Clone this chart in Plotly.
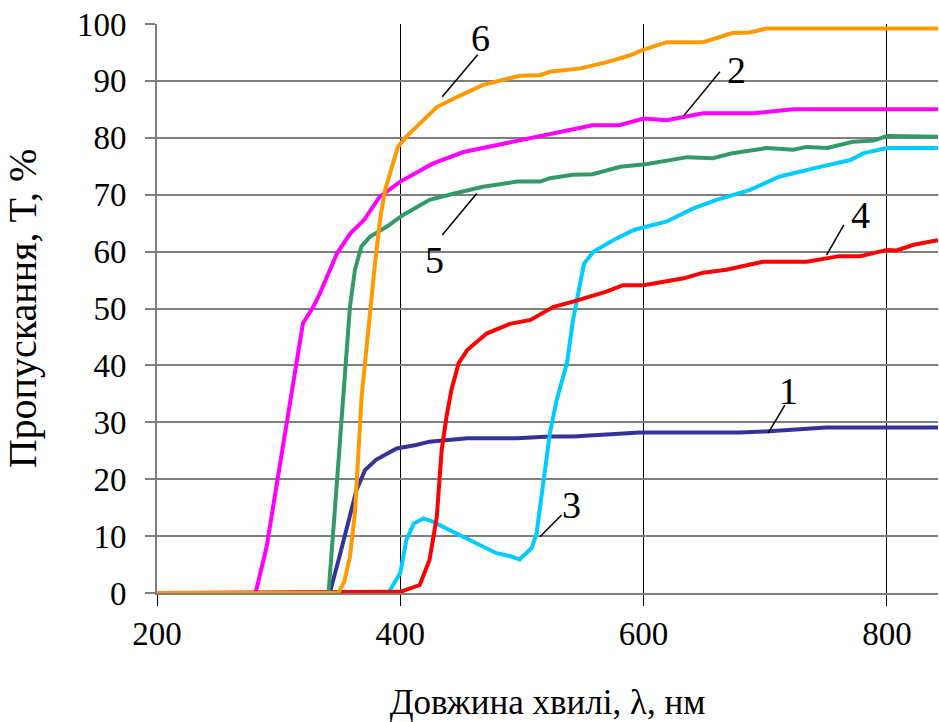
import plotly.graph_objects as go

# ---- data (wavelength, nm ; transmittance, %) ----
x1 = [200, 342, 350, 359, 364, 371, 380, 397, 413, 424, 455, 496, 523, 542, 597, 679, 700, 750, 842]
y1 = [0, 0, 6.4, 14, 18.1, 21.6, 23.4, 25.4, 26, 26.6, 27.2, 27.2, 27.5, 27.5, 28.2, 28.2, 28.4, 29.1, 29.1]

x2 = [200, 281, 290, 299, 307, 315, 320, 328.5, 334, 348, 359, 370, 383, 400, 427, 452, 479, 507, 515, 558,
      580, 600, 619, 649, 690, 723, 842]
y2 = [0, 0, 8, 19.9, 30, 40.4, 47.4, 50.3, 52.7, 59.7, 63.2, 65.5, 69.6, 72.3, 75.5, 77.5, 78.7, 80, 80.2, 82.2,
      82.2, 83.4, 83.1, 84.3, 84.3, 85, 85]

x3 = [200, 390, 400, 405, 411, 419, 427, 455, 479, 490, 498, 508, 512, 517.5, 523, 528.5, 537, 542, 548, 551,
      559, 575, 592, 619, 641, 660, 687, 712, 745, 770, 781, 800, 842]
y3 = [0, 0, 3.5, 9.3, 12.2, 13.1, 12.5, 9.6, 7, 6.5, 5.9, 7.9, 10.5, 19.3, 28.1, 33.9, 40.4, 48, 55, 57.9,
      60, 62, 63.8, 65.3, 67.6, 69.1, 70.8, 73.2, 74.9, 76.1, 77.3, 78.2, 78.2]

x4 = [200, 400, 416, 424, 430, 434, 438, 442, 448, 455, 471, 490, 507, 526, 542, 570, 583, 600, 633, 649,
      668, 698, 734, 761, 778, 800, 808, 822, 842]
y4 = [0, 0.2, 1.4, 5.8, 13.4, 25.1, 31, 35.7, 40.4, 42.7, 45.6, 47.3, 48, 50.3, 51.2, 53, 54.1, 54.1, 55.3, 56.3,
      56.8, 58.2, 58.2, 59.2, 59.2, 60.3, 60.2, 61.2, 62]

x5 = [200, 341, 346, 350, 354.5, 358.6, 362.7, 368, 375, 389, 402, 414, 424, 446, 468, 496, 515, 523, 542, 558,
      581, 603, 636, 657, 673, 701, 723, 734, 751, 772, 789, 800, 842]
y5 = [0, 0, 14, 25.7, 40.4, 50.3, 56.8, 60.9, 62.6, 64.4, 66.4, 67.9, 69.1, 70.3, 71.4, 72.3, 72.3, 72.9, 73.5, 73.6,
      74.9, 75.4, 76.6, 76.4, 77.3, 78.2, 77.9, 78.4, 78.2, 79.3, 79.5, 80.3, 80.2]

x6 = [200, 349, 354, 358.6, 362.7, 365.5, 368.2, 371, 375, 379.2, 383.3, 387.4, 390, 398, 405, 416, 430, 447, 468, 498,
      515, 523, 548, 570, 589, 599, 619, 649, 673, 687, 701, 842]
y6 = [0, 0, 2, 6.4, 14, 25.7, 34.5, 40.4, 49.2, 57.9, 65.5, 70.8, 72.6, 78.4, 80.2, 82.6, 85.4, 87.2, 89.3, 90.9,
      91, 91.6, 92.2, 93.3, 94.5, 95.4, 96.8, 96.8, 98.4, 98.5, 99.2, 99.2]

series_x = [x1, x2, x3, x4, x5, x6]
series_y = [y1, y2, y3, y4, y5, y6]
series_names = ["1", "2", "3", "4", "5", "6"]
colors = ["#333399", "#FF00FF", "#00CCFF", "#FF0000", "#339966", "#FF9900"]

# curve labels: text position and leader line (x0, y0) -> (x1, y1)
label_text = ["6", "5", "2", "4", "1", "3"]
label_x = [466, 428.5, 676, 778, 719, 541]
label_y = [97.5, 58.5, 92, 66.5, 35.5, 15.5]
lead_x0 = [463.6, 462.8, 662.7, 764.6, 716.1, 532.6]
lead_y0 = [94.6, 70.2, 91.6, 64.7, 33.0, 13.7]
lead_x1 = [434.5, 434.5, 633.1, 750.4, 702.4, 514.8]
lead_y1 = [87.2, 62.9, 83.9, 59.4, 28.1, 9.9]

x_ticks = [200, 400, 600, 800]
y_ticks = list(range(0, 101, 10))

FONT = "Liberation Serif"

fig = go.Figure()
for xs, ys, nm, c in zip(series_x, series_y, series_names, colors):
    fig.add_trace(go.Scatter(x=xs, y=ys, mode="lines", name=nm,
                             line=dict(color=c, width=4), showlegend=False))

for t, tx, ty in zip(label_text, label_x, label_y):
    fig.add_annotation(x=tx, y=ty, text=t, showarrow=False,
                       font=dict(family=FONT, size=38, color="black"))
for a, b, c, d in zip(lead_x0, lead_y0, lead_x1, lead_y1):
    fig.add_shape(type="line", x0=a, y0=b, x1=c, y1=d, xref="x", yref="y",
                  line=dict(color="black", width=1.5))

fig.update_layout(
    width=939, height=722,
    margin=dict(l=157, r=1, t=24, b=129, autoexpand=False),
    paper_bgcolor="white", plot_bgcolor="white",
    font=dict(family=FONT, color="black", size=32),
)
fig.update_xaxes(
    range=[200, 842], tickvals=x_ticks, ticktext=[str(v) for v in x_ticks],
    automargin=False,
    showgrid=True, gridcolor="black", gridwidth=1,
    showline=True, linecolor="#7f7f7f", linewidth=2,
    zeroline=False,
    ticks="outside", ticklen=11, tickcolor="black", tickwidth=1,
    ticklabelstandoff=-1,
    tickfont=dict(family=FONT, size=33, color="black"),
    title=dict(text="Довжина хвилі, λ, нм", font=dict(family=FONT, size=35, color="black"), standoff=40),
)
fig.update_yaxes(
    range=[0, 100], tickvals=y_ticks, ticktext=[str(v) for v in y_ticks],
    automargin=False,
    showgrid=True, gridcolor="#7f7f7f", gridwidth=1.5,
    showline=True, linecolor="#7f7f7f", linewidth=2,
    zeroline=False,
    ticks="outside", ticklen=10, tickcolor="#7f7f7f", tickwidth=1.5,
    ticklabelstandoff=12,
    tickfont=dict(family=FONT, size=33, color="black"),
    title=dict(text="Пропускання, Т, %", font=dict(family=FONT, size=40, color="black"), standoff=28),
)

fig.write_html("out.html", config={"displayModeBar": False},
               post_script="document.body.style.margin='0';document.body.style.padding='0';")
